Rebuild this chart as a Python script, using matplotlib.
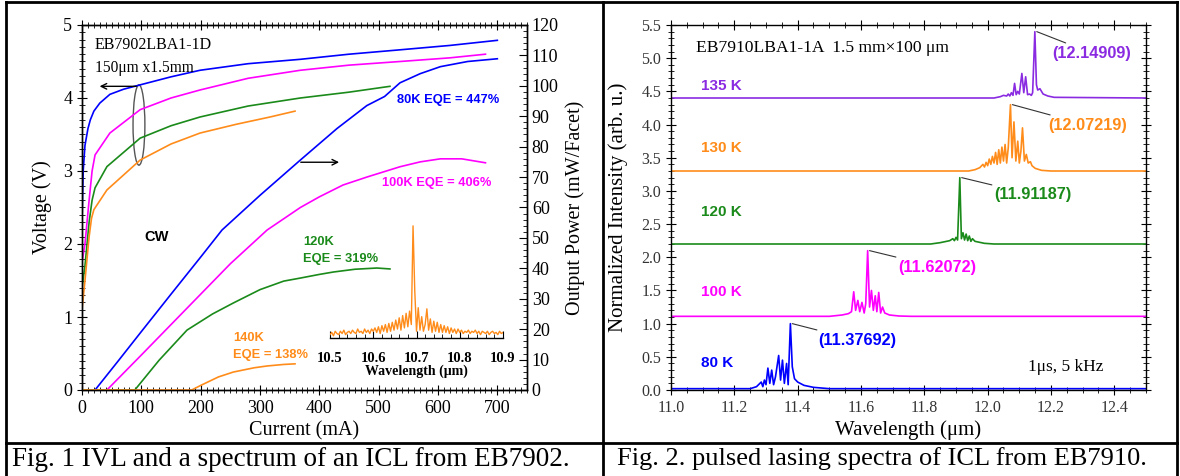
import matplotlib
matplotlib.use('Agg')
import matplotlib.pyplot as plt
import numpy as np
from matplotlib.patches import Ellipse
from matplotlib.lines import Line2D
from matplotlib.ticker import MultipleLocator, FormatStrFormatter

# ---------------- data: Fig. 1 (IVL) ----------------
i80_v = [0, 2, 5, 10, 14, 20, 30, 47, 70, 98, 150, 199, 280, 368, 450, 536, 620, 700]
v80 = [2.3, 3.0, 3.35, 3.58, 3.70, 3.82, 3.93, 4.05, 4.12, 4.18, 4.29, 4.38, 4.47, 4.53, 4.60, 4.66, 4.72, 4.79]
i100_v = [0, 5, 12, 17, 22, 47, 98, 150, 199, 280, 368, 450, 536, 620, 680]
v100 = [1.75, 2.0, 2.6, 3.0, 3.22, 3.52, 3.84, 4.0, 4.11, 4.27, 4.38, 4.45, 4.50, 4.55, 4.60]
i120_v = [0, 5, 12, 17, 22, 42, 98, 150, 199, 280, 368, 450, 519]
v120 = [1.4, 1.7, 2.3, 2.6, 2.77, 3.06, 3.45, 3.62, 3.74, 3.89, 4.0, 4.08, 4.16]
i140_v = [0, 5, 12, 16, 20, 42, 98, 150, 199, 260, 317, 359]
v140 = [1.1, 1.5, 2.1, 2.35, 2.47, 2.74, 3.15, 3.37, 3.52, 3.64, 3.74, 3.82]

i80_p = [0, 22, 60, 100, 150, 200, 236, 300, 368, 430, 480, 510, 536, 570, 604, 650, 700]
p80 = [0, 0, 9.3, 19.2, 31.5, 43.7, 52.6, 64, 75.6, 86, 93.5, 96.5, 101, 104, 106.3, 108, 108.9]
i100_p = [0, 42, 100, 150, 200, 250, 312, 368, 400, 440, 480, 536, 570, 604, 640, 680]
p100 = [0, 0, 11.5, 21.5, 31.5, 41.5, 52.6, 60, 63.5, 67.4, 70, 73.4, 75, 76, 76, 74.7]
i120_p = [0, 89, 130, 177, 220, 255, 300, 340, 368, 400, 424, 460, 497, 519]
p120 = [0, 0, 9.8, 19.7, 25, 28.6, 33, 35.8, 36.8, 38, 38.8, 39.7, 40.1, 39.8]
i140_p = [0, 185, 200, 230, 255, 290, 312, 340, 359]
p140 = [0, 0, 1.5, 4.3, 5.9, 7.3, 7.9, 8.4, 8.6]

# inset spectrum (normalized), wavelengths 10.500 .. 10.900 step 0.004
inset_wl_start, inset_wl_stop = 10.5, 10.9
inset_int = [0.03, 0.05, 0.02, 0.06, 0.04, 0.03, 0.06, 0.04, 0.07, 0.03, 0.05, 0.06, 0.04,
             0.07, 0.05, 0.04, 0.08, 0.05, 0.06, 0.04, 0.08, 0.05, 0.07, 0.04, 0.08, 0.06,
             0.09, 0.05, 0.10, 0.04, 0.11, 0.06, 0.12, 0.05, 0.13, 0.06, 0.14, 0.07, 0.16,
             0.08, 0.18, 0.07, 0.20, 0.09, 0.22, 0.10, 0.24, 0.12,
             1.00, 0.42, 0.06, 0.27, 0.07, 0.19, 0.06, 0.12, 0.26, 0.07, 0.17, 0.05, 0.15,
             0.06, 0.14, 0.05, 0.12, 0.05, 0.11, 0.05, 0.10, 0.04, 0.09, 0.05, 0.08, 0.04,
             0.08, 0.05, 0.07,
             0.04, 0.06, 0.05, 0.07, 0.04, 0.06, 0.05, 0.07, 0.04, 0.06, 0.03, 0.06, 0.05,
             0.04, 0.06, 0.03, 0.05, 0.06, 0.04, 0.05, 0.03, 0.06, 0.04, 0.05]

# ---------------- data: Fig. 2 (pulsed spectra) ----------------
wl80 = [11.00, 11.25, 11.27, 11.285, 11.29, 11.295, 11.30, 11.306, 11.312, 11.318, 11.324,
        11.33, 11.34, 11.346, 11.352, 11.358, 11.365, 11.37, 11.377, 11.383, 11.39, 11.40,
        11.42, 11.45, 11.50, 12.50]
s80 = [0.02, 0.02, 0.05, 0.12, 0.05, 0.15, 0.08, 0.33, 0.10, 0.30, 0.08, 0.20, 0.52, 0.15,
       0.45, 0.10, 0.40, 0.08, 1.00, 0.35, 0.17, 0.12, 0.07, 0.04, 0.02, 0.02]
wl100 = [11.0, 11.50, 11.54, 11.56, 11.570, 11.577, 11.583, 11.59, 11.596, 11.603, 11.61,
         11.615, 11.621, 11.627, 11.633, 11.639, 11.645, 11.650, 11.656, 11.662, 11.668,
         11.675, 11.69, 11.72, 11.76, 12.5]
s100 = [0.01, 0.01, 0.03, 0.05, 0.08, 0.38, 0.10, 0.25, 0.08, 0.22, 0.06, 0.20, 1.00, 0.15,
        0.40, 0.10, 0.32, 0.08, 0.37, 0.06, 0.15, 0.06, 0.03, 0.015, 0.01, 0.01]
wl120 = [11.0, 11.82, 11.85, 11.87, 11.88, 11.89, 11.895, 11.90, 11.905, 11.912, 11.917,
         11.922, 11.927, 11.932, 11.937, 11.942, 11.947, 11.952, 11.96, 11.97, 11.99, 12.02, 12.5]
s120 = [0.0, 0.0, 0.02, 0.04, 0.05, 0.08, 0.05, 0.10, 0.06, 1.0, 0.08, 0.17, 0.06, 0.15,
        0.05, 0.12, 0.04, 0.08, 0.04, 0.03, 0.01, 0.0, 0.0]
wl130 = [11.0, 11.94, 11.96, 11.975, 11.985, 11.99, 11.995, 12.00, 12.005, 12.01, 12.015,
         12.02, 12.025, 12.03, 12.035, 12.04, 12.045, 12.05, 12.055, 12.06, 12.065, 12.072,
         12.077, 12.083, 12.089, 12.095, 12.10, 12.105, 12.11, 12.116, 12.122, 12.128,
         12.135, 12.14, 12.15, 12.17, 12.20, 12.5]
s130 = [0.0, 0.0, 0.02, 0.05, 0.10, 0.06, 0.13, 0.08, 0.18, 0.10, 0.22, 0.12, 0.28, 0.10,
        0.32, 0.12, 0.36, 0.15, 0.40, 0.12, 0.35, 1.00, 0.20, 0.74, 0.15, 0.45, 0.12, 0.30,
        0.65, 0.15, 0.25, 0.12, 0.14, 0.08, 0.04, 0.01, 0.0, 0.0]
wl135 = [11.0, 12.02, 12.04, 12.05, 12.06, 12.065, 12.07, 12.075, 12.08, 12.085, 12.09,
         12.095, 12.10, 12.108, 12.114, 12.12, 12.126, 12.132, 12.138, 12.142, 12.149,
         12.154, 12.158, 12.165, 12.175, 12.19, 12.21, 12.5]
s135 = [0.0, 0.0, 0.02, 0.04, 0.03, 0.06, 0.03, 0.08, 0.04, 0.22, 0.05, 0.10, 0.06, 0.37,
        0.08, 0.32, 0.05, 0.06, 0.04, 0.08, 1.00, 0.20, 0.12, 0.14, 0.06, 0.03, 0.01, 0.0]
offsets = [0.0, 1.1, 2.2, 3.3, 4.4]
temps = ['80 K', '100 K', '120 K', '130 K', '135 K']
peak_labels = ['(11.37692)', '(11.62072)', '(11.91187)', '(12.07219)', '(12.14909)']

# ---------------- styling ----------------
W, H = 1180, 476
C80, C100, C120, C140, C135 = '#0000ff', '#ff00ff', '#1a8a1a', '#ff8c1a', '#8a2be2'
SERIF = ['Liberation Serif', 'DejaVu Serif']
SANS = ['Liberation Sans', 'DejaVu Sans']
plt.rcParams['font.family'] = SERIF
plt.rcParams['axes.linewidth'] = 1.0

fig = plt.figure(figsize=(W / 100, H / 100), dpi=100)


def box(x0, y0, x1, y1):
    return [x0 / W, 1 - y1 / H, (x1 - x0) / W, (y1 - y0) / H]


def fig_line(xs, ys, lw=2.0):
    fig.add_artist(Line2D([x / W for x in xs], [1 - y / H for y in ys],
                          color='black', lw=lw, transform=fig.transFigure))


# frame lines
fig_line([6, 1177], [2, 2])
fig_line([6, 6], [2, 476])
fig_line([1177, 1177], [2, 476])
fig_line([603, 603], [2, 476])
fig_line([6, 1177], [443, 443])

fig.text(12 / W, 1 - 459 / H, 'Fig. 1 IVL and a spectrum of an ICL from EB7902.',
         fontsize=19.5, va='center', ha='left', family=SERIF)
fig.text(617 / W, 1 - 459 / H, 'Fig. 2. pulsed lasing spectra of ICL from EB7910.',
         fontsize=19, va='center', ha='left', family=SERIF)

# ---------------- Fig. 1 ----------------
axL = fig.add_axes(box(82, 25, 527, 390))
axL.set_xlim(0, 750)
axL.set_ylim(0, 5)
axL.plot(i80_v, v80, color=C80, lw=1.2)
axL.plot(i100_v, v100, color=C100, lw=1.2)
axL.plot(i120_v, v120, color=C120, lw=1.2)
axL.plot(i140_v, v140, color=C140, lw=1.2)
axL.xaxis.set_major_locator(MultipleLocator(100))
axL.xaxis.set_minor_locator(MultipleLocator(10))
axL.yaxis.set_major_locator(MultipleLocator(1))
axL.yaxis.set_minor_locator(MultipleLocator(0.1))
axL.tick_params(which='both', top=True, direction='inout', labelsize=13)
axL.tick_params(which='major', length=7)
axL.tick_params(which='minor', length=4)
axL.set_xlabel('Current (mA)', fontsize=14.5)
axL.set_ylabel('Voltage (V)', fontsize=14.5)
axL.xaxis.set_label_coords(0.499, -0.085)
axL.yaxis.set_label_coords(-0.068, 0.5)

axP = axL.twinx()
axP.set_ylim(0, 120)
axP.plot(i80_p, p80, color=C80, lw=1.2)
axP.plot(i100_p, p100, color=C100, lw=1.2)
axP.plot(i120_p, p120, color=C120, lw=1.2)
axP.plot(i140_p, p140, color=C140, lw=1.2)
axP.yaxis.set_major_locator(MultipleLocator(10))
axP.yaxis.set_minor_locator(MultipleLocator(2))
axP.tick_params(which='both', direction='in', labelsize=13)
axP.tick_params(which='major', length=6)
axP.tick_params(which='minor', length=3)
axP.set_ylabel('Output Power (mW/Facet)', fontsize=14.5)
axP.yaxis.set_label_coords(1.087, 0.5)

axL.text(22, 4.73, 'EB7902LBA1-1D', fontsize=11.5, va='center', ha='left')
axL.text(22, 4.41, '150μm x1.5mm', fontsize=11.2, va='center', ha='left')
axL.add_patch(Ellipse((96, 3.63), 20, 1.1, fill=False, ec='#555555', lw=1.0))
axL.annotate('', xy=(25, 4.16), xytext=(96, 4.16),
             arrowprops=dict(arrowstyle='->', color='black', lw=1.0))
axL.annotate('', xy=(438, 3.12), xytext=(364, 3.12),
             arrowprops=dict(arrowstyle='->', color='black', lw=1.0))
bold = dict(family=SANS, fontweight='bold', fontsize=9.3)
axL.text(617, 3.97, '80K EQE = 447%', color=C80, ha='center', va='center', **bold)
axL.text(597, 2.84, '100K EQE = 406%', color=C100, ha='center', va='center', **bold)
axL.text(126, 2.1, 'CW', color='black', ha='center', va='center', family=SANS,
         fontweight='bold', fontsize=10.5)
axL.text(373, 2.03, '120K', color=C120, ha='left', va='center', **bold)
axL.text(373, 1.79, 'EQE = 319%', color=C120, ha='left', va='center', **bold)
axL.text(255, 0.71, '140K', color=C140, ha='left', va='center', **bold)
axL.text(255, 0.48, 'EQE = 138%', color=C140, ha='left', va='center', **bold)

# inset
axI = fig.add_axes(box(330, 218, 503, 338))
axI.patch.set_alpha(0)
inset_wl = np.linspace(inset_wl_start, inset_wl_stop, len(inset_int))
axI.plot(inset_wl, inset_int, color=C140, lw=1.0)
axI.set_xlim(inset_wl_start, inset_wl_stop)
axI.set_ylim(0, 1.07)
for s in ['left', 'right', 'top']:
    axI.spines[s].set_visible(False)
axI.set_yticks([])
axI.xaxis.set_major_locator(MultipleLocator(0.1))
axI.xaxis.set_minor_locator(MultipleLocator(0.02))
axI.xaxis.set_major_formatter(FormatStrFormatter('%.1f'))
axI.tick_params(axis='x', which='both', direction='in', labelsize=10.5, pad=10)
axI.tick_params(axis='x', which='major', length=5)
axI.tick_params(axis='x', which='minor', length=3)
for lab in axI.get_xticklabels():
    lab.set_fontweight('bold')
axI.set_xlabel('Wavelength (μm)', fontsize=10, fontweight='bold', labelpad=0)

# ---------------- Fig. 2 ----------------
axS = fig.add_axes(box(671, 25, 1146, 390))
axS.set_xlim(11.0, 12.5)
axS.set_ylim(0, 5.5)
spectra = [(wl80, s80, C80), (wl100, s100, C100), (wl120, s120, C120),
           (wl130, s130, C140), (wl135, s135, C135)]
temp_label_y = [0.40, 1.48, 2.68, 3.64, 4.58]
label_pos = [(11.464, 0.75), (11.719, 1.85), (12.022, 2.94), (12.192, 3.99), (12.205, 5.075)]
for (wl, s, c), off, t, ty, pl, lp in zip(spectra, offsets, temps, temp_label_y,
                                        peak_labels, label_pos):
    y = np.asarray(s) + off
    axS.plot(wl, y, color=c, lw=1.2)
    axS.text(11.095, ty, t, color=c, ha='left', va='center', family=SANS,
             fontweight='bold', fontsize=11)
    k = int(np.argmax(s))
    axS.annotate(pl, xy=(wl[k] + 0.006, off + 1.0), xytext=lp, color=c,
                 ha='left', va='center', family=SANS, fontweight='bold', fontsize=11.7,
                 arrowprops=dict(arrowstyle='-', color='#333333', lw=0.8,
                                 shrinkA=0, shrinkB=0))
axS.xaxis.set_major_locator(MultipleLocator(0.2))
axS.xaxis.set_minor_locator(MultipleLocator(0.05))
axS.xaxis.set_major_formatter(FormatStrFormatter('%.1f'))
axS.yaxis.set_major_locator(MultipleLocator(0.5))
axS.yaxis.set_minor_locator(MultipleLocator(0.1))
axS.yaxis.set_major_formatter(FormatStrFormatter('%.1f'))
axS.tick_params(which='both', top=True, right=True, direction='inout', labelsize=11.5,
                labelcolor='#333333')
axS.tick_params(which='major', length=7)
axS.tick_params(which='minor', length=4)
axS.set_xlabel('Wavelength (μm)', fontsize=15)
axS.set_ylabel('Normalized Intensity (arb. u.)', fontsize=15)
axS.xaxis.set_label_coords(0.5, -0.082)
axS.yaxis.set_label_coords(-0.0905, 0.5)
axS.text(11.079, 5.15, 'EB7910LBA1-1A  1.5 mm×100 μm', fontsize=12.6, ha='left', va='center')
axS.text(12.126, 0.35, '1μs, 5 kHz', fontsize=12.5, ha='left', va='center')

fig.savefig('out.png', dpi=100)
